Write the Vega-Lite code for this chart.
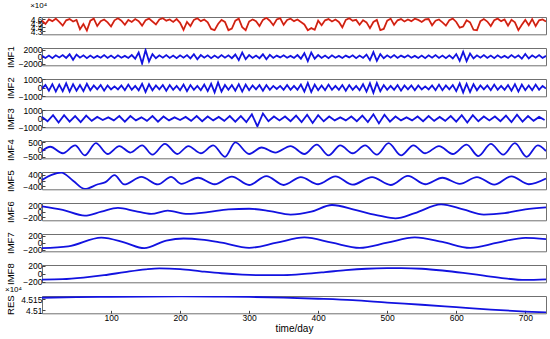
{
  "$schema": "https://vega.github.io/schema/vega-lite/v6.json",
  "padding": {"left": 4, "top": 1, "right": 0, "bottom": 0},
  "bounds": "flush",
  "spacing": 13,
  "datasets": {
    "sig": [{"t":0,"v":45600},{"t":5,"v":44800},{"t":10,"v":45900},{"t":15,"v":45500},{"t":20,"v":46100},{"t":25,"v":45300},{"t":30,"v":44400},{"t":35,"v":45700},{"t":40,"v":46000},{"t":45,"v":45400},{"t":50,"v":45800},{"t":55,"v":43500},{"t":60,"v":44800},{"t":65,"v":43200},{"t":70,"v":45600},{"t":75,"v":46100},{"t":80,"v":44300},{"t":85,"v":45500},{"t":90,"v":45900},{"t":95,"v":45200},{"t":100,"v":44200},{"t":105,"v":45700},{"t":110,"v":46200},{"t":115,"v":45600},{"t":120,"v":44600},{"t":125,"v":45800},{"t":130,"v":45300},{"t":135,"v":46000},{"t":140,"v":45500},{"t":145,"v":44400},{"t":150,"v":45700},{"t":155,"v":46100},{"t":160,"v":45400},{"t":165,"v":44700},{"t":170,"v":45900},{"t":175,"v":46200},{"t":180,"v":45600},{"t":185,"v":45900},{"t":190,"v":45300},{"t":195,"v":46000},{"t":200,"v":45100},{"t":205,"v":43400},{"t":210,"v":45300},{"t":215,"v":44300},{"t":220,"v":45800},{"t":225,"v":46200},{"t":230,"v":45500},{"t":235,"v":45900},{"t":240,"v":45200},{"t":245,"v":43600},{"t":250,"v":43300},{"t":255,"v":44800},{"t":260,"v":45800},{"t":265,"v":45300},{"t":270,"v":43300},{"t":275,"v":43700},{"t":280,"v":45600},{"t":285,"v":46100},{"t":290,"v":44000},{"t":295,"v":43300},{"t":300,"v":45400},{"t":305,"v":45900},{"t":310,"v":45500},{"t":315,"v":44300},{"t":320,"v":45800},{"t":325,"v":46300},{"t":330,"v":45600},{"t":335,"v":44500},{"t":340,"v":45900},{"t":345,"v":46200},{"t":350,"v":44600},{"t":355,"v":45800},{"t":360,"v":46100},{"t":365,"v":45500},{"t":370,"v":45900},{"t":375,"v":45300},{"t":380,"v":44700},{"t":385,"v":43300},{"t":390,"v":43800},{"t":395,"v":43400},{"t":400,"v":45600},{"t":405,"v":44500},{"t":410,"v":45700},{"t":415,"v":46000},{"t":420,"v":45400},{"t":425,"v":45900},{"t":430,"v":45300},{"t":435,"v":44000},{"t":440,"v":45800},{"t":445,"v":46200},{"t":450,"v":45600},{"t":455,"v":45800},{"t":460,"v":44600},{"t":465,"v":45700},{"t":470,"v":45200},{"t":475,"v":43800},{"t":480,"v":45300},{"t":485,"v":45800},{"t":490,"v":43300},{"t":495,"v":43600},{"t":500,"v":45600},{"t":505,"v":46100},{"t":510,"v":44600},{"t":515,"v":45700},{"t":520,"v":46000},{"t":525,"v":45400},{"t":530,"v":45900},{"t":535,"v":45500},{"t":540,"v":46100},{"t":545,"v":45800},{"t":550,"v":45300},{"t":555,"v":45900},{"t":560,"v":46000},{"t":565,"v":44500},{"t":570,"v":45600},{"t":575,"v":45900},{"t":580,"v":45200},{"t":585,"v":44400},{"t":590,"v":45700},{"t":595,"v":46100},{"t":600,"v":45300},{"t":605,"v":43900},{"t":610,"v":44200},{"t":615,"v":45700},{"t":620,"v":45200},{"t":625,"v":43400},{"t":630,"v":43300},{"t":635,"v":45500},{"t":640,"v":46000},{"t":645,"v":45400},{"t":650,"v":44300},{"t":655,"v":45700},{"t":660,"v":46100},{"t":665,"v":45500},{"t":670,"v":45900},{"t":675,"v":44400},{"t":680,"v":45800},{"t":685,"v":45200},{"t":690,"v":43300},{"t":695,"v":44600},{"t":700,"v":45800},{"t":705,"v":44500},{"t":710,"v":46000},{"t":715,"v":44300},{"t":720,"v":45700},{"t":725,"v":45900},{"t":730,"v":45400}],
    "imf1": [{"t":0,"v":220},{"t":5,"v":-380},{"t":10,"v":300},{"t":15,"v":-450},{"t":20,"v":380},{"t":25,"v":-220},{"t":30,"v":450},{"t":35,"v":-380},{"t":40,"v":680},{"t":45,"v":-900},{"t":50,"v":600},{"t":55,"v":-300},{"t":60,"v":380},{"t":65,"v":-450},{"t":70,"v":300},{"t":75,"v":-380},{"t":80,"v":220},{"t":85,"v":-300},{"t":90,"v":450},{"t":95,"v":-380},{"t":100,"v":300},{"t":105,"v":-450},{"t":110,"v":380},{"t":115,"v":-300},{"t":120,"v":220},{"t":125,"v":-380},{"t":130,"v":450},{"t":135,"v":-600},{"t":140,"v":1200},{"t":145,"v":-2000},{"t":150,"v":1900},{"t":155,"v":-1400},{"t":160,"v":750},{"t":165,"v":-450},{"t":170,"v":380},{"t":175,"v":-300},{"t":180,"v":450},{"t":185,"v":-380},{"t":190,"v":300},{"t":195,"v":-450},{"t":200,"v":380},{"t":205,"v":-300},{"t":210,"v":450},{"t":215,"v":-520},{"t":220,"v":680},{"t":225,"v":-750},{"t":230,"v":450},{"t":235,"v":-300},{"t":240,"v":380},{"t":245,"v":-450},{"t":250,"v":300},{"t":255,"v":-380},{"t":260,"v":450},{"t":265,"v":-300},{"t":270,"v":380},{"t":275,"v":-450},{"t":280,"v":600},{"t":285,"v":-1000},{"t":290,"v":1200},{"t":295,"v":-750},{"t":300,"v":450},{"t":305,"v":-380},{"t":310,"v":300},{"t":315,"v":-450},{"t":320,"v":680},{"t":325,"v":-750},{"t":330,"v":520},{"t":335,"v":-380},{"t":340,"v":300},{"t":345,"v":-220},{"t":350,"v":380},{"t":355,"v":-300},{"t":360,"v":220},{"t":365,"v":-380},{"t":370,"v":450},{"t":375,"v":-600},{"t":380,"v":1000},{"t":385,"v":-1300},{"t":390,"v":1200},{"t":395,"v":-600},{"t":400,"v":450},{"t":405,"v":-380},{"t":410,"v":300},{"t":415,"v":-450},{"t":420,"v":380},{"t":425,"v":-300},{"t":430,"v":220},{"t":435,"v":-380},{"t":440,"v":300},{"t":445,"v":-220},{"t":450,"v":380},{"t":455,"v":-450},{"t":460,"v":300},{"t":465,"v":-380},{"t":470,"v":600},{"t":475,"v":-1000},{"t":480,"v":1300},{"t":485,"v":-1200},{"t":490,"v":750},{"t":495,"v":-450},{"t":500,"v":380},{"t":505,"v":-300},{"t":510,"v":450},{"t":515,"v":-380},{"t":520,"v":300},{"t":525,"v":-220},{"t":530,"v":380},{"t":535,"v":-300},{"t":540,"v":220},{"t":545,"v":-380},{"t":550,"v":300},{"t":555,"v":-450},{"t":560,"v":380},{"t":565,"v":-300},{"t":570,"v":450},{"t":575,"v":-380},{"t":580,"v":300},{"t":585,"v":-450},{"t":590,"v":380},{"t":595,"v":-520},{"t":600,"v":750},{"t":605,"v":-1200},{"t":610,"v":1400},{"t":615,"v":-1300},{"t":620,"v":900},{"t":625,"v":-520},{"t":630,"v":380},{"t":635,"v":-300},{"t":640,"v":450},{"t":645,"v":-380},{"t":650,"v":300},{"t":655,"v":-450},{"t":660,"v":380},{"t":665,"v":-300},{"t":670,"v":220},{"t":675,"v":-380},{"t":680,"v":450},{"t":685,"v":-300},{"t":690,"v":380},{"t":695,"v":-600},{"t":700,"v":750},{"t":705,"v":-520},{"t":710,"v":380},{"t":715,"v":-300},{"t":720,"v":450},{"t":725,"v":-380},{"t":730,"v":220}],
    "imf2": [{"t":0,"v":-100},{"t":5,"v":300},{"t":10,"v":-350},{"t":15,"v":400},{"t":20,"v":-450},{"t":25,"v":350},{"t":30,"v":-400},{"t":35,"v":500},{"t":40,"v":-450},{"t":45,"v":400},{"t":50,"v":-350},{"t":55,"v":300},{"t":60,"v":-400},{"t":65,"v":450},{"t":70,"v":-300},{"t":75,"v":250},{"t":80,"v":-200},{"t":85,"v":300},{"t":90,"v":-350},{"t":95,"v":250},{"t":100,"v":-200},{"t":105,"v":150},{"t":110,"v":-200},{"t":115,"v":250},{"t":120,"v":-300},{"t":125,"v":350},{"t":130,"v":-250},{"t":135,"v":200},{"t":140,"v":-300},{"t":145,"v":450},{"t":150,"v":-500},{"t":155,"v":400},{"t":160,"v":-300},{"t":165,"v":250},{"t":170,"v":-200},{"t":175,"v":300},{"t":180,"v":-350},{"t":185,"v":300},{"t":190,"v":-250},{"t":195,"v":200},{"t":200,"v":-300},{"t":205,"v":350},{"t":210,"v":-400},{"t":215,"v":300},{"t":220,"v":-250},{"t":225,"v":200},{"t":230,"v":-300},{"t":235,"v":350},{"t":240,"v":-400},{"t":245,"v":450},{"t":250,"v":-550},{"t":255,"v":600},{"t":260,"v":-450},{"t":265,"v":300},{"t":270,"v":-250},{"t":275,"v":300},{"t":280,"v":-350},{"t":285,"v":400},{"t":290,"v":-450},{"t":295,"v":350},{"t":300,"v":-300},{"t":305,"v":250},{"t":310,"v":-200},{"t":315,"v":300},{"t":320,"v":-350},{"t":325,"v":300},{"t":330,"v":-250},{"t":335,"v":200},{"t":340,"v":-150},{"t":345,"v":200},{"t":350,"v":-250},{"t":355,"v":300},{"t":360,"v":-250},{"t":365,"v":200},{"t":370,"v":-250},{"t":375,"v":350},{"t":380,"v":-450},{"t":385,"v":550},{"t":390,"v":-500},{"t":395,"v":350},{"t":400,"v":-300},{"t":405,"v":250},{"t":410,"v":-300},{"t":415,"v":350},{"t":420,"v":-250},{"t":425,"v":200},{"t":430,"v":-250},{"t":435,"v":300},{"t":440,"v":-350},{"t":445,"v":300},{"t":450,"v":-250},{"t":455,"v":200},{"t":460,"v":-300},{"t":465,"v":400},{"t":470,"v":-450},{"t":475,"v":500},{"t":480,"v":-600},{"t":485,"v":550},{"t":490,"v":-400},{"t":495,"v":300},{"t":500,"v":-250},{"t":505,"v":200},{"t":510,"v":-250},{"t":515,"v":300},{"t":520,"v":-350},{"t":525,"v":250},{"t":530,"v":-200},{"t":535,"v":250},{"t":540,"v":-300},{"t":545,"v":250},{"t":550,"v":-200},{"t":555,"v":150},{"t":560,"v":-200},{"t":565,"v":250},{"t":570,"v":-300},{"t":575,"v":350},{"t":580,"v":-300},{"t":585,"v":250},{"t":590,"v":-200},{"t":595,"v":300},{"t":600,"v":-400},{"t":605,"v":500},{"t":610,"v":-550},{"t":615,"v":450},{"t":620,"v":-500},{"t":625,"v":400},{"t":630,"v":-300},{"t":635,"v":250},{"t":640,"v":-200},{"t":645,"v":250},{"t":650,"v":-300},{"t":655,"v":350},{"t":660,"v":-250},{"t":665,"v":200},{"t":670,"v":-250},{"t":675,"v":300},{"t":680,"v":-350},{"t":685,"v":400},{"t":690,"v":-450},{"t":695,"v":350},{"t":700,"v":-300},{"t":705,"v":250},{"t":710,"v":-300},{"t":715,"v":350},{"t":720,"v":-250},{"t":725,"v":200},{"t":730,"v":-100}],
    "imf3": [{"t":0,"v":200},{"t":8,"v":-300},{"t":16,"v":400},{"t":24,"v":-450},{"t":32,"v":400},{"t":40,"v":-350},{"t":48,"v":300},{"t":56,"v":-400},{"t":64,"v":350},{"t":72,"v":-250},{"t":80,"v":200},{"t":88,"v":-150},{"t":96,"v":150},{"t":104,"v":-200},{"t":112,"v":300},{"t":120,"v":-350},{"t":128,"v":300},{"t":136,"v":-200},{"t":144,"v":150},{"t":152,"v":-250},{"t":160,"v":300},{"t":168,"v":-350},{"t":176,"v":250},{"t":184,"v":-200},{"t":192,"v":150},{"t":200,"v":-150},{"t":208,"v":200},{"t":216,"v":-250},{"t":224,"v":300},{"t":232,"v":-300},{"t":240,"v":250},{"t":248,"v":-200},{"t":256,"v":200},{"t":264,"v":-250},{"t":272,"v":300},{"t":280,"v":-350},{"t":288,"v":300},{"t":296,"v":-400},{"t":304,"v":500},{"t":312,"v":-900},{"t":320,"v":600},{"t":328,"v":-300},{"t":336,"v":250},{"t":344,"v":-200},{"t":352,"v":250},{"t":360,"v":-300},{"t":368,"v":350},{"t":376,"v":-400},{"t":384,"v":450},{"t":392,"v":-500},{"t":400,"v":400},{"t":408,"v":-300},{"t":416,"v":250},{"t":424,"v":-200},{"t":432,"v":150},{"t":440,"v":-200},{"t":448,"v":250},{"t":456,"v":-300},{"t":464,"v":350},{"t":472,"v":-400},{"t":480,"v":500},{"t":488,"v":-550},{"t":496,"v":450},{"t":504,"v":-350},{"t":512,"v":250},{"t":520,"v":-200},{"t":528,"v":150},{"t":536,"v":-200},{"t":544,"v":250},{"t":552,"v":-300},{"t":560,"v":300},{"t":568,"v":-250},{"t":576,"v":200},{"t":584,"v":-250},{"t":592,"v":300},{"t":600,"v":-350},{"t":608,"v":400},{"t":616,"v":-450},{"t":624,"v":400},{"t":632,"v":-300},{"t":640,"v":250},{"t":648,"v":-200},{"t":656,"v":250},{"t":664,"v":-300},{"t":672,"v":350},{"t":680,"v":-400},{"t":688,"v":450},{"t":696,"v":-350},{"t":704,"v":300},{"t":712,"v":-250},{"t":720,"v":200},{"t":728,"v":-150}],
    "imf4": [{"t":0,"v":-100},{"t":12,"v":200},{"t":30,"v":-250},{"t":48,"v":300},{"t":62,"v":-400},{"t":78,"v":450},{"t":95,"v":-300},{"t":112,"v":250},{"t":128,"v":-200},{"t":145,"v":300},{"t":160,"v":-350},{"t":178,"v":400},{"t":196,"v":-300},{"t":212,"v":250},{"t":230,"v":-250},{"t":248,"v":300},{"t":265,"v":-500},{"t":280,"v":500},{"t":300,"v":-300},{"t":318,"v":150},{"t":338,"v":-200},{"t":360,"v":250},{"t":380,"v":-300},{"t":398,"v":350},{"t":415,"v":-400},{"t":432,"v":300},{"t":450,"v":-250},{"t":468,"v":300},{"t":485,"v":-350},{"t":502,"v":450},{"t":520,"v":-400},{"t":538,"v":300},{"t":555,"v":-250},{"t":575,"v":250},{"t":595,"v":-300},{"t":615,"v":350},{"t":632,"v":-450},{"t":650,"v":400},{"t":668,"v":-350},{"t":685,"v":450},{"t":702,"v":-500},{"t":718,"v":300},{"t":730,"v":-100}],
    "imf5": [{"t":0,"v":50},{"t":14,"v":400},{"t":28,"v":560},{"t":45,"v":0},{"t":62,"v":-580},{"t":81,"v":-250},{"t":92,"v":-100},{"t":105,"v":380},{"t":119,"v":-260},{"t":144,"v":260},{"t":168,"v":-260},{"t":187,"v":260},{"t":202,"v":-220},{"t":226,"v":200},{"t":250,"v":-250},{"t":275,"v":280},{"t":300,"v":-300},{"t":325,"v":320},{"t":350,"v":-300},{"t":375,"v":250},{"t":400,"v":-250},{"t":425,"v":300},{"t":450,"v":-280},{"t":478,"v":250},{"t":505,"v":-300},{"t":530,"v":330},{"t":555,"v":-250},{"t":580,"v":200},{"t":605,"v":-220},{"t":630,"v":250},{"t":655,"v":-280},{"t":680,"v":300},{"t":705,"v":-250},{"t":730,"v":150}],
    "imf6": [{"t":0,"v":185},{"t":30,"v":60},{"t":62,"v":-137},{"t":86,"v":0},{"t":110,"v":130},{"t":135,"v":20},{"t":158,"v":-80},{"t":182,"v":35},{"t":211,"v":-80},{"t":240,"v":-20},{"t":270,"v":80},{"t":300,"v":100},{"t":330,"v":20},{"t":360,"v":-100},{"t":390,"v":0},{"t":420,"v":230},{"t":455,"v":50},{"t":490,"v":-150},{"t":512,"v":-230},{"t":540,"v":-50},{"t":578,"v":250},{"t":610,"v":80},{"t":640,"v":-100},{"t":670,"v":-50},{"t":700,"v":80},{"t":730,"v":150}],
    "imf7": [{"t":0,"v":-160},{"t":38,"v":-110},{"t":86,"v":145},{"t":120,"v":0},{"t":148,"v":-160},{"t":180,"v":60},{"t":205,"v":120},{"t":231,"v":90},{"t":260,"v":0},{"t":300,"v":-150},{"t":340,"v":0},{"t":380,"v":150},{"t":420,"v":0},{"t":460,"v":-150},{"t":500,"v":0},{"t":540,"v":150},{"t":580,"v":20},{"t":620,"v":-150},{"t":660,"v":0},{"t":700,"v":140},{"t":730,"v":100}],
    "imf8": [{"t":0,"v":-150},{"t":30,"v":-140},{"t":60,"v":-100},{"t":90,"v":-40},{"t":120,"v":40},{"t":150,"v":110},{"t":170,"v":135},{"t":200,"v":115},{"t":230,"v":60},{"t":260,"v":10},{"t":290,"v":-25},{"t":320,"v":-40},{"t":350,"v":-35},{"t":380,"v":-5},{"t":410,"v":40},{"t":440,"v":90},{"t":470,"v":125},{"t":500,"v":140},{"t":520,"v":142},{"t":550,"v":125},{"t":580,"v":80},{"t":610,"v":20},{"t":640,"v":-50},{"t":670,"v":-120},{"t":700,"v":-160},{"t":730,"v":-145}],
    "res": [{"t":0,"v":45156},{"t":50,"v":45158.5},{"t":100,"v":45160.5},{"t":150,"v":45161.8},{"t":200,"v":45162.3},{"t":250,"v":45161.8},{"t":300,"v":45160},{"t":350,"v":45156.5},{"t":400,"v":45151.5},{"t":450,"v":45145},{"t":500,"v":45134},{"t":550,"v":45124},{"t":600,"v":45113},{"t":650,"v":45102},{"t":700,"v":45093},{"t":730,"v":45089}]
  },
  "vconcat": [
    {
      "width": 504, "height": 17.3,
      "data": {"name": "sig"},
      "title": {"text": "×10⁴", "anchor": "start", "fontSize": 8, "fontWeight": "normal", "font": "Liberation Sans", "offset": 5, "color": "#000"},
      "encoding": {
        "x": {"field": "t", "type": "quantitative", "scale": {"domain": [0, 730]}, "axis": null},
        "y": {"field": "v", "type": "quantitative", "scale": {"domain": [42300, 46500]}, "axis": {"title": null, "values": [43000, 44000, 45000, 46000], "labelExpr": "format(datum.value/10000, '.1f')"}}
      },
      "layer": [
        {"mark": {"type": "line", "color": "#ff1a1a", "strokeWidth": 1.8, "clip": true}},
        {"mark": {"type": "line", "color": "#8a3d12", "strokeWidth": 0.7, "clip": true}}
      ]
    },
    {
      "width": 504, "height": 17.3,
      "data": {"name": "imf1"},
      "mark": {"type": "line", "clip": true},
      "encoding": {
        "x": {"field": "t", "type": "quantitative", "scale": {"domain": [0, 730]}, "axis": null},
        "y": {"field": "v", "type": "quantitative", "scale": {"domain": [-2500, 2500]}, "axis": {"title": "IMF1", "values": [-2000, 0, 2000]}}
      }
    },
    {
      "width": 504, "height": 17.3,
      "data": {"name": "imf2"},
      "mark": {"type": "line", "clip": true},
      "encoding": {
        "x": {"field": "t", "type": "quantitative", "scale": {"domain": [0, 730]}, "axis": null},
        "y": {"field": "v", "type": "quantitative", "scale": {"domain": [-1000, 1000]}, "axis": {"title": "IMF2", "values": [-1000, 0, 1000]}}
      }
    },
    {
      "width": 504, "height": 17.3,
      "data": {"name": "imf3"},
      "mark": {"type": "line", "clip": true},
      "encoding": {
        "x": {"field": "t", "type": "quantitative", "scale": {"domain": [0, 730]}, "axis": null},
        "y": {"field": "v", "type": "quantitative", "scale": {"domain": [-1000, 1000]}, "axis": {"title": "IMF3", "values": [-1000, 0, 1000]}}
      }
    },
    {
      "width": 504, "height": 17.3,
      "data": {"name": "imf4"},
      "mark": {"type": "line", "clip": true, "interpolate": "monotone"},
      "encoding": {
        "x": {"field": "t", "type": "quantitative", "scale": {"domain": [0, 730]}, "axis": null},
        "y": {"field": "v", "type": "quantitative", "scale": {"domain": [-600, 600]}, "axis": {"title": "IMF4", "values": [-500, 0, 500]}}
      }
    },
    {
      "width": 504, "height": 17.3,
      "data": {"name": "imf5"},
      "mark": {"type": "line", "clip": true, "interpolate": "monotone"},
      "encoding": {
        "x": {"field": "t", "type": "quantitative", "scale": {"domain": [0, 730]}, "axis": null},
        "y": {"field": "v", "type": "quantitative", "scale": {"domain": [-600, 600]}, "axis": {"title": "IMF5", "values": [-400, 0, 400]}}
      }
    },
    {
      "width": 504, "height": 17.3,
      "data": {"name": "imf6"},
      "mark": {"type": "line", "clip": true, "interpolate": "monotone"},
      "encoding": {
        "x": {"field": "t", "type": "quantitative", "scale": {"domain": [0, 730]}, "axis": null},
        "y": {"field": "v", "type": "quantitative", "scale": {"domain": [-300, 300]}, "axis": {"title": "IMF6", "values": [-200, 0, 200]}}
      }
    },
    {
      "width": 504, "height": 17.3,
      "data": {"name": "imf7"},
      "mark": {"type": "line", "clip": true, "interpolate": "monotone"},
      "encoding": {
        "x": {"field": "t", "type": "quantitative", "scale": {"domain": [0, 730]}, "axis": null},
        "y": {"field": "v", "type": "quantitative", "scale": {"domain": [-250, 250]}, "axis": {"title": "IMF7", "values": [-200, 0, 200]}}
      }
    },
    {
      "width": 504, "height": 17.3,
      "data": {"name": "imf8"},
      "mark": {"type": "line", "clip": true, "interpolate": "monotone"},
      "encoding": {
        "x": {"field": "t", "type": "quantitative", "scale": {"domain": [0, 730]}, "axis": null},
        "y": {"field": "v", "type": "quantitative", "scale": {"domain": [-220, 220]}, "axis": {"title": "IMF8", "values": [-200, 0, 200]}}
      }
    },
    {
      "width": 504, "height": 17.3,
      "data": {"name": "res"},
      "title": {"text": "×10⁴", "anchor": "start", "fontSize": 8, "fontWeight": "normal", "font": "Liberation Sans", "offset": 1, "color": "#000"},
      "mark": {"type": "line", "clip": true, "interpolate": "monotone"},
      "encoding": {
        "x": {"field": "t", "type": "quantitative", "scale": {"domain": [0, 730]}, "axis": {"title": "time/day", "titleFontSize": 10, "values": [100, 200, 300, 400, 500, 600, 700], "labelPadding": 3, "titlePadding": 2}},
        "y": {"field": "v", "type": "quantitative", "scale": {"domain": [45085, 45164]}, "axis": {"title": "RES", "values": [45100, 45150], "labelExpr": "datum.value/10000 + ''"}}
      }
    }
  ],
  "config": {
    "view": {"stroke": "#707070", "strokeWidth": 1},
    "line": {"color": "#1212e0", "strokeWidth": 1.8},
    "axis": {"grid": false, "domain": false, "format": "d", "labelOverlap": false, "labelFont": "Liberation Sans", "labelFontSize": 8.5, "labelColor": "#000", "titleFont": "Liberation Sans", "titleFontSize": 9.5, "titleFontWeight": "normal", "titleColor": "#000", "tickSize": -3, "tickColor": "#444", "labelPadding": 3},
    "axisY": {"titleX": -32, "titleY": 8.65, "titleAlign": "center", "titleBaseline": "middle", "titleAngle": -90}
  }
}
